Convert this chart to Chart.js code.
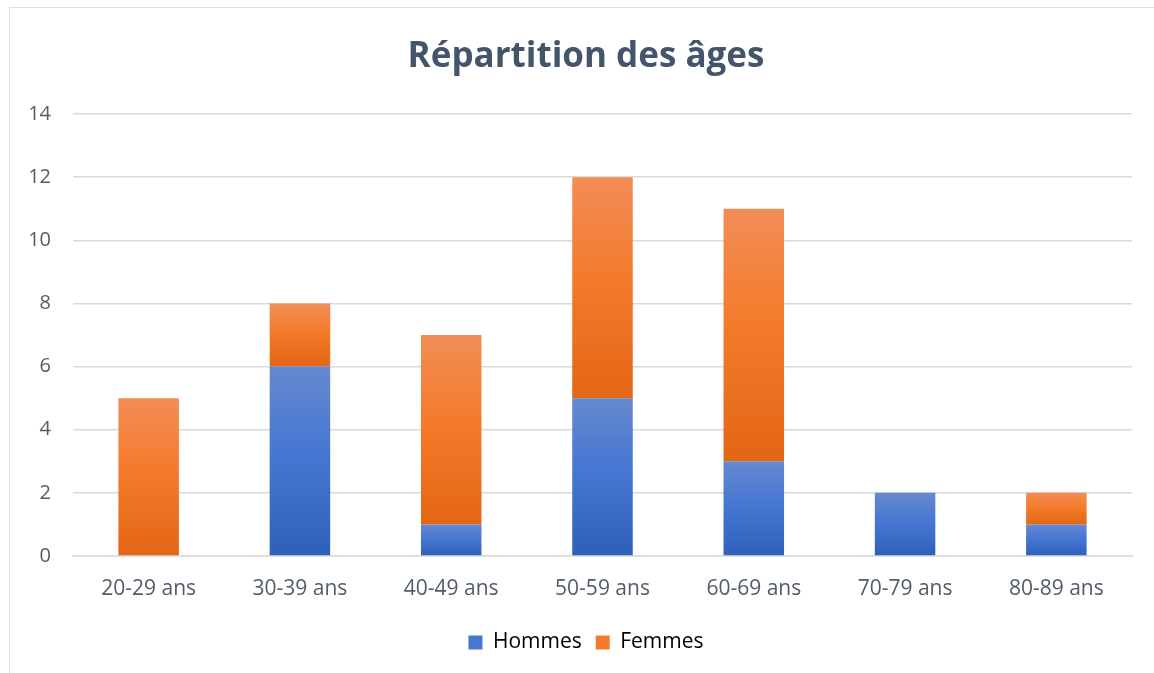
<!DOCTYPE html>
<html lang="fr">
<head>
<meta charset="utf-8">
<script src="https://cdn.jsdelivr.net/npm/chart.js@4.4.1/dist/chart.umd.min.js"></script>
<style>
    html, body { margin: 0; padding: 0; background: #fff; overflow: hidden; }
    #cadre {
        position: absolute; left: 9px; top: 7px;
        width: 1170px; height: 690px;
        border: 1.5px solid #dcdfe3;
    }
    #zone { position: absolute; left: 0; top: 0; width: 1154px; height: 673px; }
</style>
</head>
<body>
<div id="cadre"></div>
<div id="zone"><canvas id="graphiqueAges"></canvas></div>
<script>
/* ----- Données ----- */
const tranches = ["20-29 ans", "30-39 ans", "40-49 ans", "50-59 ans", "60-69 ans", "70-79 ans", "80-89 ans"];
const hommes = [0, 6, 1, 5, 3, 2, 1];
const femmes = [5, 2, 6, 7, 8, 0, 1];
const graduations = [0, 2, 4, 6, 8, 10, 12, 14];

const series = [hommes, femmes];

/* ----- Dégradé vertical par segment ----- */
const teintes = [
    ["#6689cf", "#4677d2", "#2f60b9"],
    ["#f28d57", "#f47b2b", "#e36614"]
];

function degrade(ctx, s) {
    const chart = ctx.chart;
    const y = chart.scales.y;
    if (!y || ctx.dataIndex === undefined) return teintes[s][1];
    let base = 0;
    for (let k = 0; k < s; k++) base += series[k][ctx.dataIndex];
    const haut = base + series[s][ctx.dataIndex];
    const y0 = y.getPixelForValue(haut);
    const y1 = y.getPixelForValue(base);
    if (!isFinite(y0) || !isFinite(y1) || y0 === y1) return teintes[s][1];
    const g = chart.ctx.createLinearGradient(0, y0, 0, y1);
    g.addColorStop(0, teintes[s][0]);
    g.addColorStop(0.45, teintes[s][1]);
    g.addColorStop(1, teintes[s][2]);
    return g;
}

/* ----- Titre et légende un peu décalés à droite ----- */
const decalage = {
    id: "decalage",
    afterLayout(chart) {
        [chart.titleBlock, chart.legend].forEach(b => {
            if (!b) return;
            b.left += 20;
            b.right += 20;
        });
    }
};

Chart.defaults.font.family = "'Open Sans', Lato, sans-serif";
Chart.defaults.color = "#525c69";

new Chart(document.getElementById("graphiqueAges"), {
    type: "bar",
    data: {
        labels: tranches,
        datasets: [
            { label: "Hommes", data: hommes, backgroundColor: c => degrade(c, 0) },
            { label: "Femmes", data: femmes, backgroundColor: c => degrade(c, 1) }
        ]
    },
    plugins: [decalage],
    options: {
        responsive: true,
        maintainAspectRatio: false,
        animation: false,
        datasets: { bar: { barPercentage: 0.4, categoryPercentage: 1 } },
        layout: { padding: { left: 0, right: 22, top: 0, bottom: 10 } },
        scales: {
            x: {
                stacked: true,
                grid: { display: false, drawTicks: false },
                border: { color: "#d9d9d9", width: 1.5 },
                ticks: { font: { size: 21 }, padding: 20 },
                afterFit: s => { s.height = 62; }
            },
            y: {
                stacked: true,
                min: 0, max: 14,
                afterBuildTicks: s => { s.ticks = graduations.map(v => ({ value: v })); },
                grid: { color: "#d9d9d9", lineWidth: 1.5, drawTicks: false },
                border: { display: false },
                ticks: { font: { size: 20 }, padding: 22 },
                afterFit: s => { s.width = 73; }
            }
        },
        plugins: {
            title: {
                display: true,
                text: "Répartition des âges",
                color: "#44546a",
                font: { size: 35, weight: "bold" },
                padding: { top: 36, bottom: 36 }
            },
            legend: {
                position: "bottom",
                labels: {
                    boxWidth: 14, boxHeight: 14, padding: 14,
                    color: "#525c69",
                    font: { size: 21 },
                    generateLabels: chart => chart.data.datasets.map((d, i) => ({
                        text: d.label,
                        fillStyle: teintes[i][1],
                        strokeStyle: teintes[i][1],
                        lineWidth: 0,
                        datasetIndex: i
                    }))
                }
            },
            tooltip: { enabled: false }
        }
    }
});
</script>
</body>
</html>
